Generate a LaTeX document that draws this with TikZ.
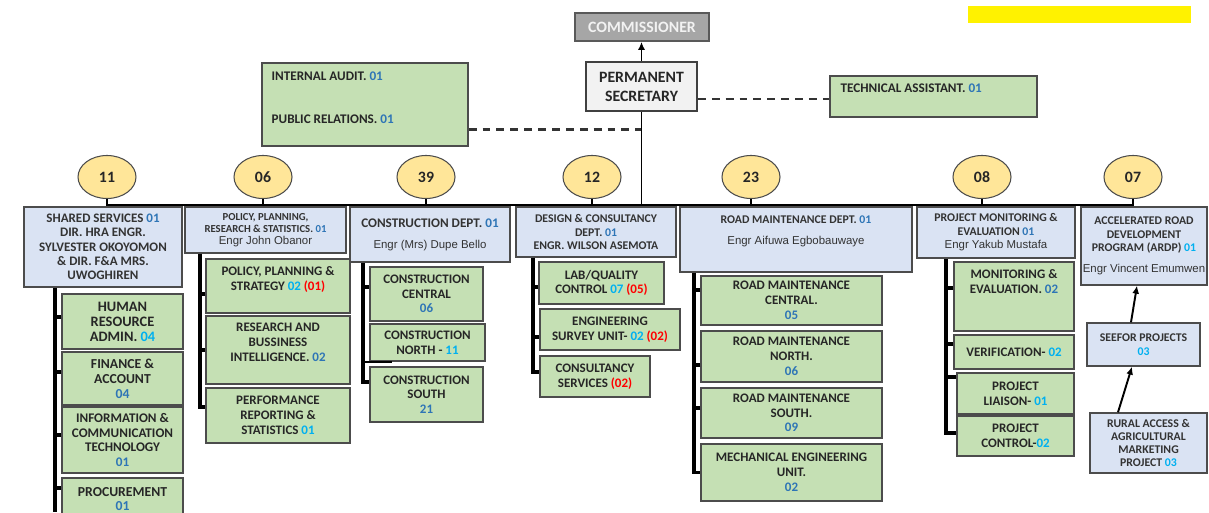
\documentclass[tikz,border=0pt]{standalone}
\usepackage{fontspec}
\setmainfont{Carlito}
\newfontfamily\namefont{Liberation Sans}
\usetikzlibrary{positioning,shapes.geometric,arrows.meta}
\definecolor{deptblue}{HTML}{DAE3F3}
\definecolor{unitgreen}{HTML}{C5E0B4}
\definecolor{countyellow}{HTML}{FFE699}
\definecolor{psgrey}{HTML}{F2F2F2}
\definecolor{commgrey}{HTML}{A6A6A6}
\definecolor{numblue}{HTML}{2E75B6}
\definecolor{numcyan}{HTML}{00B0F0}
\definecolor{numred}{HTML}{FF0000}
\newcommand\bluenum[1]{\textcolor{numblue}{#1}}
\newcommand\cyannum[1]{\textcolor{numcyan}{#1}}
\newcommand\rednum[1]{\textcolor{numred}{#1}}
\newcommand\engr[1]{{\namefont\mdseries\fontsize{6.5}{7.6}\selectfont #1}}
\tikzset{
  commbox/.style={draw=black!65, fill=commgrey, line width=1pt, inner sep=1pt, text=psgrey, font=\bfseries\fontsize{9}{10.8}\selectfont},
  psbox/.style={draw=black!75, fill=psgrey, line width=1pt, inner sep=1pt, align=center, text=black!85, font=\bfseries\fontsize{9}{10.8}\selectfont},
  deptbox/.style={draw=black!70, fill=deptblue, line width=0.8pt, inner sep=1pt, align=center, text=black!80, font=\bfseries\fontsize{6.7}{7.7}\selectfont},
  unitbox/.style={draw=black!70, fill=unitgreen, line width=0.8pt, inner sep=1pt, align=center, text=black!85, font=\bfseries\fontsize{7.4}{8.4}\selectfont},
  unittext/.style={inner sep=0pt, align=center, text=black!85, font=\bfseries\fontsize{7.4}{8.4}\selectfont},
  sidetext/.style={inner sep=0pt, text=black!85, font=\bfseries\fontsize{7.5}{8.5}\selectfont},
  headcount/.style={ellipse, draw=black!70, fill=countyellow, line width=0.6pt, minimum width=1.16cm, minimum height=0.86cm, inner sep=0pt, text=black!85, font=\bfseries\fontsize{9}{10}\selectfont},
  bus/.style={line width=1.5pt, draw=black},
  spine/.style={line width=2pt, draw=black},
  dashlink/.style={line width=1.4pt, draw=black!80, dash pattern=on 4.5pt off 3.4pt},
  upward/.style={line width=1.1pt, draw=black, -{Latex[length=4.5pt,width=4pt]}},
}
\begin{document}
\begin{tikzpicture}
\useasboundingbox (0,0) rectangle (24.18,10.24);
% head of the ministry
\node[commbox, minimum width=2.68cm, minimum height=0.56cm] (comm) at (12.84,9.70) {COMMISSIONER};
\node[fill=yellow, minimum width=4.46cm, minimum height=0.34cm, inner sep=0pt] (hilite) at (21.59,9.95) {};
\node[psbox, minimum width=2.22cm, minimum height=0.98cm] (ps) at (12.83,8.51) {PERMANENT\\SECRETARY};
\draw[upward] (ps.north) -- (ps.north |- comm.south);
% staff units beside the permanent secretary
\node[unitbox, minimum width=4.12cm, minimum height=1.66cm] (audit) at (7.30,8.15) {};
\node[sidetext, below right=0.19cm and 0.20cm of audit.north west] (audit-a) {INTERNAL AUDIT. \bluenum{01}};
\node[sidetext, below right=1.05cm and 0.20cm of audit.north west] (audit-b) {PUBLIC RELATIONS. \bluenum{01}};
\node[unitbox, minimum width=4.14cm, minimum height=0.82cm] (techasst) at (18.67,8.31) {};
\node[sidetext, below right=0.17cm and 0.22cm of techasst.north west] (techasst-a) {TECHNICAL ASSISTANT. \bluenum{01}};
\coordinate (auditdash) at ([yshift=0.34cm]audit.south east);
\coordinate (psdash) at ([yshift=-0.25cm]ps.east);
\draw[dashlink] (auditdash) -- (auditdash -| ps.south);
\draw[dashlink] (psdash) -- (psdash -| techasst.west);
% staff strength of each department
\coordinate (bus) at (0,6.14);
\node[headcount] (c11) at (2.14,6.70) {11};
\node[headcount] (c06) at (5.26,6.70) {06};
\node[headcount] (c39) at (8.52,6.70) {39};
\node[headcount] (c12) at (11.84,6.70) {12};
\node[headcount] (c23) at (15.02,6.70) {23};
\node[headcount] (c08) at (19.64,6.70) {08};
\node[headcount] (c07) at (22.66,6.70) {07};
\draw[bus] (c11.south) |- (bus -| c07.south) -- (c07.south);
\draw[bus] (c06.south) -- (c06.south |- bus);
\draw[bus] (c39.south) -- (c39.south |- bus);
\draw[bus] (c12.south) -- (c12.south |- bus);
\draw[bus] (c23.south) -- (c23.south |- bus);
\draw[bus] (c08.south) -- (c08.south |- bus);
\draw[line width=1.1pt] (ps.south) -- (ps.south |- bus);
% departments
\node[deptbox, minimum width=3.16cm, minimum height=1.60cm, font=\bfseries\fontsize{7.4}{8.1}\selectfont] (shared) at (2.06,5.30) {SHARED SERVICES \bluenum{01}\\DIR. HRA ENGR.\\SYLVESTER OKOYOMON\\\& DIR. F\&A MRS.\\UWOGHIREN};
\node[deptbox, minimum width=3.22cm, minimum height=0.92cm, font=\bfseries\fontsize{6.1}{6.9}\selectfont] (policy) at (5.31,5.64) {POLICY, PLANNING,\\RESEARCH \& STATISTICS. \bluenum{01}\\\engr{Engr John Obanor}};
\node[deptbox, minimum width=3.20cm, minimum height=1.10cm, font=\bfseries\fontsize{7.5}{8.4}\selectfont] (cons) at (8.60,5.55) {CONSTRUCTION DEPT. \bluenum{01}\\[0.13cm]\engr{Engr (Mrs) Dupe Bello}};
\node[deptbox, minimum width=3.20cm, minimum height=1.00cm] (design) at (11.92,5.60) {DESIGN \& CONSULTANCY\\DEPT. \bluenum{01}\\ENGR. WILSON ASEMOTA};
\node[deptbox, minimum width=4.64cm, minimum height=1.30cm] (roadm) at (15.92,5.45) {};
\node[deptbox, draw=none, fill=none, inner sep=0pt, below=0.18cm of roadm.north] (roadm-t) {ROAD MAINTENANCE DEPT. \bluenum{01}\\[0.14cm]\engr{Engr Aifuwa Egbobauwaye}};
\node[deptbox, minimum width=3.16cm, minimum height=1.02cm] (pme) at (19.92,5.59) {PROJECT MONITORING \&\\EVALUATION \bluenum{01}\\\engr{Engr Yakub Mustafa}};
\node[deptbox, minimum width=2.52cm, minimum height=1.56cm, inner sep=0pt] (ardp) at (22.88,5.32) {ACCELERATED ROAD\\DEVELOPMENT\\PROGRAM (ARDP) \cyannum{01}\\[0.14cm]\engr{Engr Vincent Emumwen}};
\node[deptbox, minimum width=2.26cm, minimum height=0.86cm] (seefor) at (22.87,3.35) {SEEFOR PROJECTS\\\cyannum{03}};
\node[deptbox, minimum width=2.34cm, minimum height=1.20cm, font=\bfseries\fontsize{6.7}{7.3}\selectfont] (raamp) at (22.97,1.38) {RURAL ACCESS \&\\AGRICULTURAL\\MARKETING\\PROJECT \cyannum{03}};
\draw[upward] ([xshift=-0.61cm]raamp.north) -- ([xshift=-0.23cm]seefor.south);
\draw[upward] ([xshift=-0.25cm]seefor.north) -- ([xshift=-0.14cm]ardp.south);
% shared services units
\node[unitbox, minimum width=2.42cm, minimum height=1.10cm, font=\bfseries\fontsize{8.2}{8.5}\selectfont] (hr) at (2.45,3.81) {HUMAN\\RESOURCE\\ADMIN. \cyannum{04}};
\node[unitbox, minimum width=2.42cm, minimum height=1.06cm, font=\bfseries\fontsize{7.8}{8.5}\selectfont] (fin) at (2.45,2.67) {FINANCE \&\\ACCOUNT\\\bluenum{04}};
\node[unitbox, minimum width=2.42cm, minimum height=1.32cm, font=\bfseries\fontsize{7.5}{8.2}\selectfont] (ict) at (2.45,1.44) {INFORMATION \&\\COMMUNICATION\\TECHNOLOGY\\\bluenum{01}};
\node[unitbox, minimum width=2.42cm, minimum height=0.84cm, font=\bfseries\fontsize{7.8}{8.2}\selectfont] (proc) at (2.45,0.26) {PROCUREMENT\\\bluenum{01}};
\coordinate (ss-sp) at (1.10,0);
\draw[spine] (shared.south -| ss-sp) -- (ss-sp);
\draw[spine] ([yshift=0.09cm]hr.west) -- ([yshift=0.09cm]hr.west -| ss-sp);
\draw[spine] ([yshift=0.13cm]fin.west) -- ([yshift=0.13cm]fin.west -| ss-sp);
\draw[spine] ([yshift=0.10cm]ict.west) -- ([yshift=0.10cm]ict.west -| ss-sp);
\draw[spine] ([yshift=0.22cm]proc.west) -- ([yshift=0.22cm]proc.west -| ss-sp);
% policy units
\node[unitbox, minimum width=2.88cm, minimum height=1.08cm] (pps) at (5.56,4.52) {};
\node[unittext, below=0.16cm of pps.north] (pps-t) {POLICY, PLANNING \&\\STRATEGY \cyannum{02} \rednum{(01)}};
\node[unitbox, minimum width=2.88cm, minimum height=1.36cm] (rbi) at (5.56,3.24) {};
\node[unittext, below=0.15cm of rbi.north] (rbi-t) {RESEARCH AND\\BUSSINESS\\INTELLIGENCE. \bluenum{02}};
\node[unitbox, minimum width=2.88cm, minimum height=1.10cm] (prs) at (5.56,1.93) {PERFORMANCE\\REPORTING \&\\STATISTICS \cyannum{01}};
\coordinate (pol-sp) at (4.00,0);
\draw[spine] (policy.south -| pol-sp) |- ([yshift=0.17cm]prs.west);
\draw[spine] ([yshift=-0.16cm]pps.west) -- ([yshift=-0.16cm]pps.west -| pol-sp);
\draw[spine] (rbi.west) -- (rbi.west -| pol-sp);
% construction units
\node[unitbox, minimum width=2.26cm, minimum height=1.08cm] (cc) at (8.53,4.36) {CONSTRUCTION\\CENTRAL\\\bluenum{06}};
\node[unitbox, minimum width=2.30cm, minimum height=0.74cm] (cn) at (8.55,3.39) {CONSTRUCTION\\NORTH - \cyannum{11}};
\node[unitbox, minimum width=2.26cm, minimum height=1.10cm] (cs) at (8.53,2.35) {CONSTRUCTION\\SOUTH\\\bluenum{21}};
\coordinate (cons-sp) at (7.26,0);
\draw[spine] (cons.south -| cons-sp) |- ([yshift=0.25cm]cs.west);
\draw[spine] ([yshift=0.14cm]cc.west) -- ([yshift=0.14cm]cc.west -| cons-sp);
\draw[line width=1pt] (cn.south west -| cons-sp) -- ([xshift=0.46cm]cn.south west);
% design units
\node[unitbox, minimum width=2.50cm, minimum height=0.84cm] (lab) at (12.03,4.58) {LAB/QUALITY\\CONTROL \cyannum{07} \rednum{(05)}};
\node[unitbox, minimum width=2.80cm, minimum height=0.82cm] (esu) at (12.20,3.65) {ENGINEERING\\SURVEY UNIT- \cyannum{02} \rednum{(02)}};
\node[unitbox, minimum width=2.20cm, minimum height=0.82cm] (csv) at (11.90,2.71) {CONSULTANCY\\SERVICES \rednum{(02)}};
\coordinate (des-sp) at (10.66,0);
\draw[spine] (design.south -| des-sp) |- ([yshift=0.09cm]csv.west);
\draw[spine] ([yshift=-0.08cm]lab.west) -- ([yshift=-0.08cm]lab.west -| des-sp);
\draw[spine] ([yshift=-0.15cm]esu.west) -- ([yshift=-0.15cm]esu.west -| des-sp);
% road maintenance units
\node[unitbox, minimum width=3.62cm, minimum height=0.98cm] (rmc) at (15.83,4.23) {ROAD MAINTENANCE\\CENTRAL.\\\bluenum{05}};
\node[unitbox, minimum width=3.62cm, minimum height=1.02cm] (rmn) at (15.83,3.11) {ROAD MAINTENANCE\\NORTH.\\\bluenum{06}};
\node[unitbox, minimum width=3.62cm, minimum height=1.00cm] (rms) at (15.83,1.98) {ROAD MAINTENANCE\\SOUTH.\\\bluenum{09}};
\node[unitbox, minimum width=3.62cm, minimum height=1.14cm] (mech) at (15.83,0.79) {MECHANICAL ENGINEERING\\UNIT.\\\bluenum{02}};
\coordinate (rm-sp) at (13.88,0);
\draw[spine] (roadm.south -| rm-sp) |- (mech.west);
\draw[spine] ([yshift=0.21cm]rmc.west) -- ([yshift=0.21cm]rmc.west -| rm-sp);
\draw[spine] ([yshift=-0.17cm]rmn.west) -- ([yshift=-0.17cm]rmn.west -| rm-sp);
\draw[spine] ([yshift=0.10cm]rms.west) -- ([yshift=0.10cm]rms.west -| rm-sp);
% monitoring and evaluation units
\node[unitbox, minimum width=2.40cm, minimum height=1.38cm] (mande) at (20.28,4.31) {};
\node[unittext, below=0.16cm of mande.north] (mande-t) {MONITORING \&\\EVALUATION. \bluenum{02}};
\node[unitbox, minimum width=2.40cm, minimum height=0.68cm] (verif) at (20.28,3.20) {VERIFICATION- \cyannum{02}};
\node[unitbox, minimum width=2.34cm, minimum height=0.82cm] (liaison) at (20.31,2.37) {PROJECT\\LIAISON- \cyannum{01}};
\node[unitbox, minimum width=2.34cm, minimum height=0.80cm] (control) at (20.31,1.52) {PROJECT\\CONTROL-\cyannum{02}};
\coordinate (pme-sp) at (18.92,0);
\draw[spine] (pme.south -| pme-sp) |- ([yshift=0.06cm]control.west);
\draw[spine] ([yshift=0.17cm]mande.west) -- ([yshift=0.17cm]mande.west -| pme-sp);
\draw[spine] ([yshift=0.16cm]verif.west) -- ([yshift=0.16cm]verif.west -| pme-sp);
\draw[spine] ([yshift=0.33cm]liaison.west) -- ([yshift=0.33cm]liaison.west -| pme-sp);
\end{tikzpicture}
\end{document}
